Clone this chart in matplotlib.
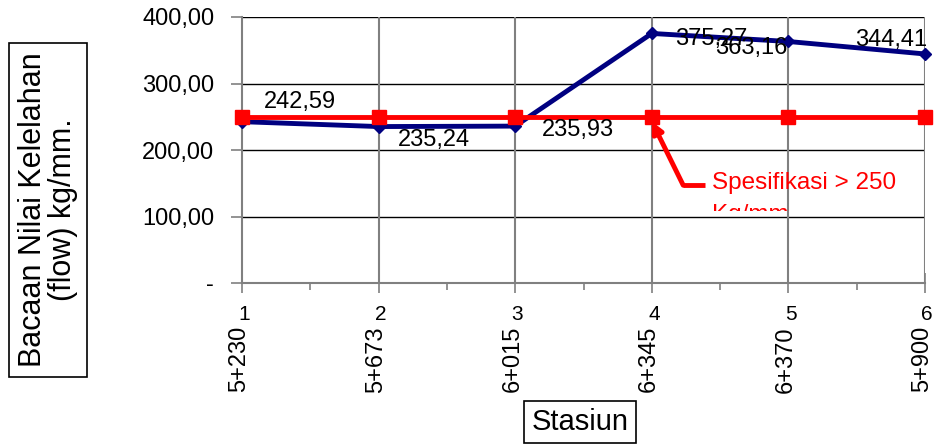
import matplotlib
matplotlib.use("Agg")
import matplotlib.pyplot as plt
from matplotlib.ticker import FixedLocator
from matplotlib.transforms import Bbox, TransformedBbox

plt.rcParams['font.family'] = ['Liberation Sans', 'DejaVu Sans']

# Data
station_no = [1, 2, 3, 4, 5, 6]
station_km = ["5+230", "5+673", "6+015", "6+345", "6+370", "5+900"]
flow_values = [242.59, 235.24, 235.93, 375.27, 363.16, 344.41]
spec_values = [250, 250, 250, 250, 250, 250]
label_texts = ["242,59", "235,24", "235,93", "375,27", "363,16", "344,41"]
y_ticks = [0, 100, 200, 300, 400]
y_tick_labels = ["-", "100,00", "200,00", "300,00", "400,00"]

W, H = 935, 445
fig = plt.figure(figsize=(W / 100, H / 100), dpi=100)
ax = fig.add_axes([242 / W, 1 - 283 / H, 683 / W, 266 / H])

ax.set_xlim(1, 6)
ax.set_ylim(0, 400)

# grid
for y in y_ticks[1:]:
    ax.axhline(y, color="black", lw=1.0, zorder=1)
for x in station_no[1:]:
    ax.axvline(x, color="#808080", lw=1.5, zorder=1)

ax.plot(station_no, flow_values, color="#000080", lw=3.5, marker="D",
        markersize=6, zorder=3, clip_on=False)
ax.plot(station_no, spec_values, color="#FF0000", lw=3.5, marker="s",
        markersize=10, zorder=4, clip_on=False)

# value labels (offsets in points)
offsets = [(16, 14), (14, -10), (19, -3), (17, -4), (-53, -5), (-50, 10)]
for x, y, t, (dx, dy) in zip(station_no, flow_values, label_texts, offsets):
    ax.annotate(t, (x, y), xytext=(dx, dy), textcoords="offset points",
                fontsize=17, color="black", va="center", ha="left", zorder=5)

# specification callout
ax.plot([4.39, 4.23], [147, 147], color="#FF0000", lw=3.5, zorder=5,
        solid_capstyle="butt")
ax.annotate("", xy=(4.0, 243), xytext=(4.23, 147),
            arrowprops=dict(arrowstyle="-|>", color="#FF0000", lw=3.5,
                            mutation_scale=16, shrinkA=0, shrinkB=0),
            zorder=5)
ax.text(4.44, 150, "Spesifikasi > 250", color="#FF0000", fontsize=17.5,
        va="center", ha="left", zorder=6)
t2 = ax.text(4.44, 103, "Kg/mm", color="#FF0000", fontsize=17.5,
             va="center", ha="left", zorder=6)
t2.set_clip_on(True)
t2.set_clip_path(None)
t2.set_clip_box(TransformedBbox(Bbox([[0, 1 - 211 / H], [1, 1 - 150 / H]]),
                                fig.transFigure))

# axes styling
for s in ["top", "right"]:
    ax.spines[s].set_visible(False)
ax.spines["left"].set_color("#808080")
ax.spines["bottom"].set_color("#808080")
ax.spines["left"].set_linewidth(1.5)
ax.spines["bottom"].set_linewidth(1.5)

ax.set_yticks(y_ticks)
ax.set_yticklabels(y_tick_labels, fontsize=17)
ax.tick_params(axis="y", direction="out", length=8, width=1.2, color="#808080", pad=12)

ax.set_xticks(station_no)
ax.set_xticklabels([])
ax.xaxis.set_minor_locator(FixedLocator([1.5, 2.5, 3.5, 4.5, 5.5]))
ax.tick_params(axis="x", which="major", direction="inout", length=14, width=1.2, color="#808080")
ax.tick_params(axis="x", which="minor", direction="out", length=5, width=1.2, color="#808080")

# two-level category labels
for x, n, km in zip(station_no, station_no, station_km):
    ax.annotate(str(n), (x, 0), xycoords="data", xytext=(1.5, -22.5),
                textcoords="offset points", ha="center", va="center",
                fontsize=15, annotation_clip=False)
    ax.annotate(km, (x, 0), xycoords="data", xytext=(-2, -31),
                textcoords="offset points", ha="center", va="top",
                rotation=90, fontsize=17, annotation_clip=False)

# axis titles in boxes
fig.text(48 / W, 1 - 210 / H, "Bacaan Nilai Kelelahan\n(flow) kg/mm.",
         rotation=90, ha="center", va="center", fontsize=22,
         multialignment="center", linespacing=1.0,
         bbox=dict(boxstyle="square,pad=0.3", facecolor="white",
                   edgecolor="black", lw=1.2))
fig.text(580 / W, 1 - 422 / H, "Stasiun", ha="center", va="center",
         fontsize=21,
         bbox=dict(boxstyle="square,pad=0.25", facecolor="white",
                   edgecolor="black", lw=1.2))

fig.savefig("out.png", dpi=100)
